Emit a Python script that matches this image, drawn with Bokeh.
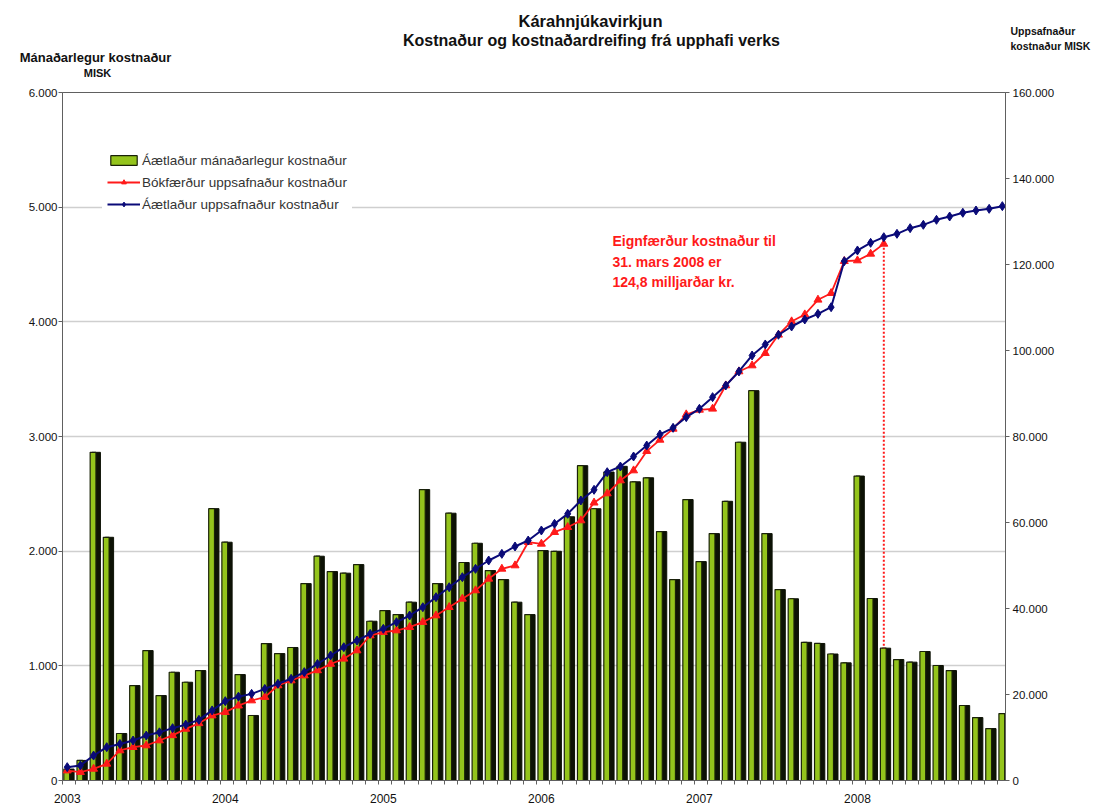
from bokeh.plotting import figure
from bokeh.layouts import column
from bokeh.models import Range1d, LinearAxis, FixedTicker, Legend, LegendItem, Label
from bokeh.core.properties import value
from bokeh.transform import dodge
from bokeh.embed import file_html
from bokeh.resources import INLINE

# ---------------- data ----------------
months = list(range(72))  # Jan 2003 .. Dec 2008
year_tick_idx = [0, 12, 24, 36, 48, 60]
year_labels = ["2003", "2004", "2005", "2006", "2007", "2008"]

# Áætlaður mánaðarlegur kostnaður (MISK)
monthly = [100, 175, 2862, 2121, 410, 828, 1133, 741, 944, 857, 959, 2371,
           2078, 924, 567, 1194, 1107, 1160, 1717, 1956, 1822, 1808, 1883, 1389,
           1482, 1447, 1555, 2537, 1717, 2331, 1901, 2069, 1831, 1752, 1555, 1447,
           2005, 1999, 2300, 2746, 2370, 2690, 2740, 2605, 2640, 2171, 1752, 2450,
           1909, 2153, 2435, 2950, 3400, 2153, 1665, 1585, 1205, 1195, 1103, 1026,
           2655, 1587, 1154, 1055, 1032, 1125, 1003, 959, 654, 549, 453, 584]

# Bókfærður uppsafnaður kostnaður (MISK), to 31 March 2008
booked_cum = [2300, 1950, 2700, 3880, 6980, 7750, 8140, 9300, 10500, 12000, 13300, 15100,
              15900, 17400, 18600, 19400, 22100, 23250, 24400, 25600, 27100, 28300, 30230, 33720,
              34500, 34880, 35660, 36820, 38370, 40300, 42250, 44190, 46900, 49220, 50000, 55420,
              55040, 57750, 58910, 60470, 64600, 66740, 69770, 72090, 76590, 79220, 81780, 85120,
              86200, 86440, 91860, 95120, 96510, 99380, 103650, 106750, 108370, 111790, 113330, 120770,
              120930, 122480, 124800]

# Áætlaður uppsafnaður kostnaður (MISK)
planned_cum = [3100, 3500, 5800, 7750, 8500, 9300, 10450, 11200, 12170, 13000, 14100, 16300,
               18450, 19500, 20150, 21300, 22500, 23650, 25200, 27100, 29070, 31000, 32560, 34100,
               35270, 36820, 38370, 40300, 42630, 44950, 47280, 49220, 51160, 52710, 54420, 55810,
               58140, 59690, 62020, 65120, 67600, 71700, 73020, 75350, 77900, 80470, 82020, 84500,
               86440, 89150, 91860, 95120, 98840, 101400, 103650, 105580, 107210, 108530, 110070, 120770,
               123260, 125040, 126350, 127130, 128450, 129230, 130390, 131160, 132030, 132560, 132950, 133570]

left_ticks = [0, 1000, 2000, 3000, 4000, 5000, 6000]
left_labels = ["0", "1.000", "2.000", "3.000", "4.000", "5.000", "6.000"]
right_ticks = [0, 20000, 40000, 60000, 80000, 100000, 120000, 140000, 160000]
right_labels = ["0", "20.000", "40.000", "60.000", "80.000", "100.000", "120.000", "140.000", "160.000"]

LEFT_MAX = 6000
RIGHT_MAX = 160000
marker_month = 62  # 31. mars 2008

FONT = "Liberation Sans"
W = 1099
HEAD_H = 84
MAIN_H = 805 - HEAD_H

# ---------------- header (titles) ----------------
h = figure(width=W, height=HEAD_H, output_backend="svg", toolbar_location=None,
           x_range=Range1d(0, W), y_range=Range1d(HEAD_H, 0),
           x_axis_location=None, y_axis_location=None, min_border=0,
           min_border_left=0, min_border_right=0, min_border_top=0, min_border_bottom=0)
h.frame_align = False
h.grid.visible = False
h.outline_line_color = None
h.background_fill_color = "white"
h.border_fill_color = "white"


def htext(x, y, txt, size, align="left"):
    h.text(x=[x], y=[y], text=[txt], text_font=value(FONT), text_font_size=size,
           text_font_style="bold", text_color="#111111", text_align=align,
           text_baseline="middle")


htext(590, 20, "Kárahnjúkavirkjun", "16.5px", "center")
htext(591, 40, "Kostnaður og kostnaðardreifing frá upphafi verks", "16px", "center")
htext(95, 57, "Mánaðarlegur kostnaður", "13px", "center")
htext(97, 72, "MISK", "11px", "center")
htext(1010, 30, "Uppsafnaður", "10.5px")
htext(1010, 45, "kostnaður MISK", "10.5px")

# ---------------- main figure ----------------
p = figure(width=W, height=MAIN_H, output_backend="svg", toolbar_location=None,
           x_range=Range1d(-0.36, 71.24), y_range=Range1d(0, LEFT_MAX),
           min_border_left=62, min_border_right=94, min_border_top=8, min_border_bottom=25)
p.frame_align = False
p.extra_y_ranges = {"cum": Range1d(0, RIGHT_MAX)}
p.background_fill_color = "white"
p.border_fill_color = "white"
p.outline_line_color = "#606060"
p.outline_line_width = 1

p.xgrid.visible = False
p.ygrid.ticker = FixedTicker(ticks=left_ticks)
p.ygrid.grid_line_color = "#cfcfcf"
p.ygrid.grid_line_width = 1.5

# left axis
ya = p.yaxis[0]
ya.ticker = FixedTicker(ticks=left_ticks)
ya.major_label_overrides = {t: l for t, l in zip(left_ticks, left_labels)}
ya.major_label_text_font = FONT
ya.major_label_text_font_size = "11.5px"
ya.major_label_text_color = "#111111"
ya.major_tick_out = 4
ya.major_tick_in = 0
ya.minor_tick_out = 0
ya.minor_tick_in = 0
ya.axis_line_color = "#606060"
ya.major_tick_line_color = "#606060"
ya.major_label_standoff = 1

# right axis
ra = LinearAxis(y_range_name="cum", ticker=FixedTicker(ticks=right_ticks))
ra.major_label_overrides = {t: l for t, l in zip(right_ticks, right_labels)}
ra.major_label_text_font = FONT
ra.major_label_text_font_size = "11.5px"
ra.major_label_text_color = "#111111"
ra.major_tick_out = 4
ra.major_tick_in = 0
ra.minor_tick_out = 0
ra.minor_tick_in = 0
ra.axis_line_color = "#606060"
ra.major_tick_line_color = "#606060"
ra.major_label_standoff = 3
p.add_layout(ra, "right")

# bottom axis
xa = p.xaxis[0]
xa.ticker = FixedTicker(ticks=year_tick_idx, minor_ticks=[k - 0.36 for k in range(73)])
xa.major_label_overrides = {t: l for t, l in zip(year_tick_idx, year_labels)}
xa.major_label_text_font = FONT
xa.major_label_text_font_size = "12px"
xa.major_label_text_color = "#111111"
xa.major_tick_out = 0
xa.major_tick_in = 0
xa.minor_tick_out = 4
xa.minor_tick_in = 0
xa.minor_tick_line_color = "#606060"
xa.axis_line_color = "#606060"
xa.major_label_standoff = 9

# ---------------- bars (3D look: dark side + green face) ----------------
src = {"m": months, "v": monthly}
p.vbar(x=dodge("m", 0.2, range=p.x_range), top="v", width=0.64, source=src,
       fill_color="#0d1205", line_color="#0d1205", line_width=1)
front = p.vbar(x=dodge("m", -0.04, range=p.x_range), top="v", width=0.44, source=src,
               fill_color="#94c41c", line_color="#1a2208", line_width=1.2)

# ---------------- cumulative lines ----------------
bm = months[:len(booked_cum)]
red_l = p.line(bm, booked_cum, y_range_name="cum", line_color="#ff1a1a", line_width=1.8)
red_m = p.scatter(bm, booked_cum, y_range_name="cum", marker="triangle", size=8,
                  fill_color="#ff1a1a", line_color="#ff1a1a")
blue_l = p.line(months, planned_cum, y_range_name="cum", line_color="#0a0a78", line_width=2)
blue_m = p.scatter(months, planned_cum, y_range_name="cum", marker="diamond", size=9,
                   fill_color="#0a0a78", line_color="#0a0a78")

# dotted drop line at 31 March 2008: from booked point down to the bar top
p.segment(x0=[months[marker_month]], y0=[booked_cum[marker_month]],
          x1=[months[marker_month]], y1=[monthly[marker_month] * RIGHT_MAX / LEFT_MAX],
          y_range_name="cum", line_color="#ff1a1a", line_width=2, line_dash="2 2")

# ---------------- legend ----------------
legend = Legend(items=[
    LegendItem(label="Áætlaður mánaðarlegur kostnaður", renderers=[front]),
    LegendItem(label="Bókfærður uppsafnaður kostnaður", renderers=[red_l, red_m]),
    LegendItem(label="Áætlaður uppsafnaður kostnaður", renderers=[blue_l, blue_m]),
], location=(40, 561), orientation="vertical")
legend.label_text_font = FONT
legend.label_text_font_size = "13.5px"
legend.label_text_color = "#333333"
legend.glyph_width = 33
legend.glyph_height = 12
legend.label_standoff = 2
legend.label_height = 20
legend.spacing = 2
legend.padding = 5
legend.margin = 0
legend.border_line_alpha = 0
legend.background_fill_color = "white"
legend.background_fill_alpha = 1
p.add_layout(legend, "center")

# ---------------- annotation (inside plot area) ----------------
for txt, sy in [("Eignfærður kostnaður til", 540),
                ("31. mars 2008 er", 519),
                ("124,8 milljarðar kr.", 499)]:
    p.add_layout(Label(x=550, y=sy, x_units="screen", y_units="screen", text=txt,
                       text_font=FONT, text_font_size="14px", text_color="#ff1a1a",
                       text_font_style="bold", text_align="left", text_baseline="middle"))

open("out.html", "w").write(file_html(column(h, p, spacing=0), INLINE))
